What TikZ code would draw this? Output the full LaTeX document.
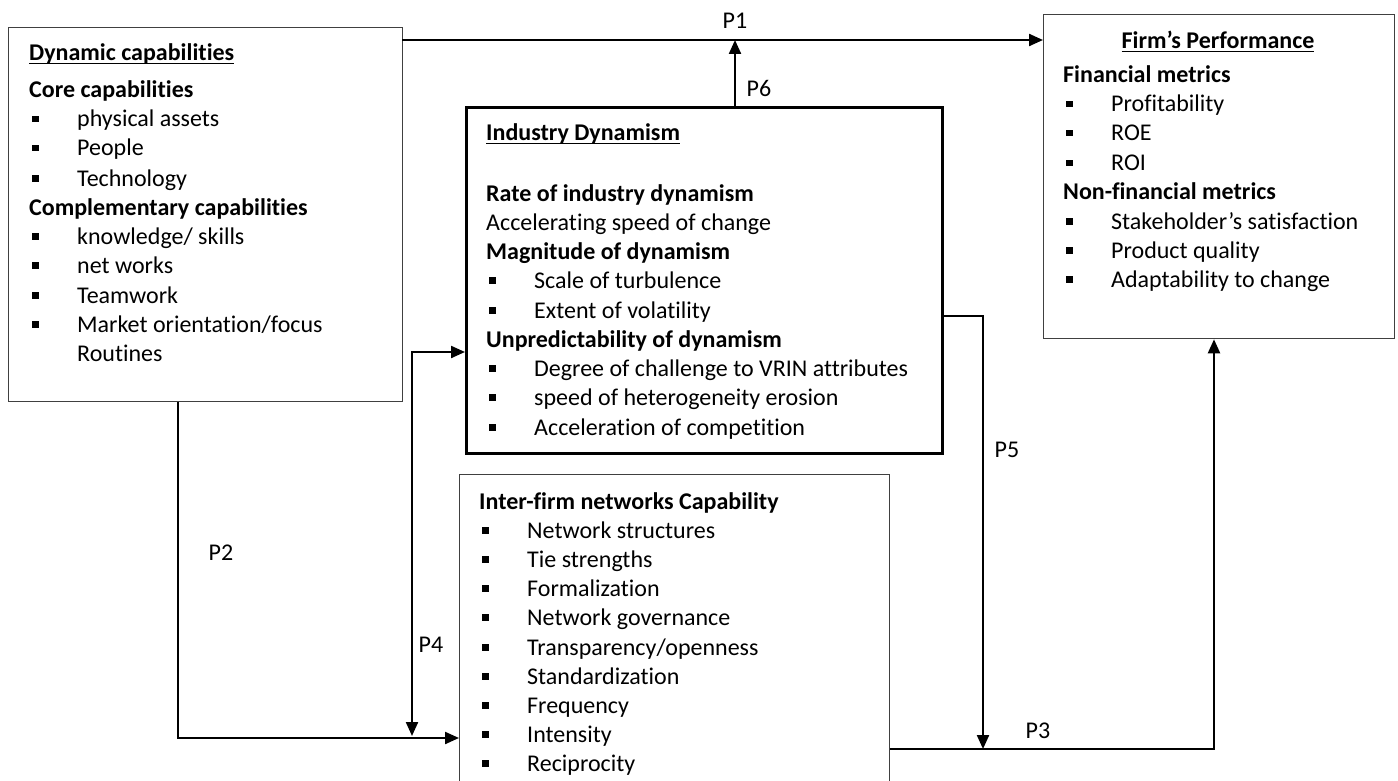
\documentclass[tikz,border=0pt]{standalone}
\usepackage{fontspec}
\setmainfont{Carlito}[Ligatures={TeX,NoCommon}]
\usetikzlibrary{arrows.meta}
\definecolor{boxgray}{HTML}{404040}
\newcommand\bul{\makebox[48pt][l]{\hspace{3pt}\rule[4.5pt]{6.5pt}{6.5pt}}}
\newcommand\ulb[1]{\setbox0\hbox{\bfseries #1}\rlap{\rule[-3.3pt]{\wd0}{1.4pt}}\box0}
\begin{document}
\begin{tikzpicture}[x=1pt,y=-1pt,
 box/.style={draw=boxgray, line width=1.3pt, inner sep=0pt, anchor=north west},
 thickbox/.style={draw=black, line width=2.6pt, inner sep=0pt, anchor=north west},
 txt/.style={inner sep=0pt, anchor=base west, font=\fontsize{24}{29}\selectfont},
 lbl/.style={inner sep=0pt, font=\fontsize{24}{29}\selectfont},
 arr/.style={draw=black, line width=2.2pt, line cap=rect, -{Triangle[length=14pt,width=12pt]}},
 arrboth/.style={draw=black, line width=2.2pt, {Triangle[length=14pt,width=12pt]}-{Triangle[length=14pt,width=12pt]}},
 ln/.style={draw=black, line width=1.3pt},
]
\useasboundingbox (0,0) rectangle (1398,781);
\clip (0,0) rectangle (1398,781);

% boxes
\node[box, minimum width=394pt, minimum height=374pt] (A) at (8,27) {};
\node[thickbox, minimum width=476pt, minimum height=346pt] (B) at (465,106) {};
\node[box, minimum width=351pt, minimum height=324pt] (C) at (1043,14) {};
\node[box, minimum width=430pt, minimum height=320pt] (D) at (459,474) {};

% box A text
\node[txt] (a0) at (29,61) {\ulb{Dynamic capabilities}};
\node[txt] (a1) at (29,98) {\textbf{Core capabilities}};
\node[txt] (a2) at (29,127) {\bul physical assets};
\node[txt] (a3) at (29,156) {\bul People};
\node[txt] (a4) at (29,186) {\bul Technology};
\node[txt] (a5) at (29,215) {\textbf{Complementary capabilities}};
\node[txt] (a6) at (29,244) {\bul knowledge/ skills};
\node[txt] (a7) at (29,273) {\bul net works};
\node[txt] (a8) at (29,303) {\bul Teamwork};
\node[txt] (a9) at (29,332) {\bul Market orientation/focus};
\node[txt] (a10) at (77,361) {Routines};

% box B text
\node[txt] (b0) at (486,141) {\ulb{Industry Dynamism}};
\node[txt] (b1) at (486,201) {\textbf{Rate of industry dynamism}};
\node[txt] (b2) at (486,230) {Accelerating speed of change};
\node[txt] (b3) at (486,259) {\textbf{Magnitude of dynamism}};
\node[txt] (b4) at (486,288) {\bul Scale of turbulence};
\node[txt] (b5) at (486,318) {\bul Extent of volatility};
\node[txt] (b6) at (486,347) {\textbf{Unpredictability of dynamism}};
\node[txt] (b7) at (486,376) {\bul Degree of challenge to VRIN attributes};
\node[txt] (b8) at (486,405) {\bul speed of heterogeneity erosion};
\node[txt] (b9) at (486,435) {\bul Acceleration of competition};

% box C text
\node[txt, anchor=base] (c0) at (1218,49) {\ulb{Firm’s Performance}};
\node[txt] (c1) at (1063,83) {\textbf{Financial metrics}};
\node[txt] (c2) at (1063,112) {\bul Profitability};
\node[txt] (c3) at (1063,141) {\bul ROE};
\node[txt] (c4) at (1063,171) {\bul ROI};
\node[txt] (c5) at (1063,200) {\textbf{Non-financial metrics}};
\node[txt] (c6) at (1063,229) {\bul Stakeholder’s satisfaction};
\node[txt] (c7) at (1063,258) {\bul Product quality};
\node[txt] (c8) at (1063,287) {\bul Adaptability to change};

% box D text
\node[txt] (d0) at (479,509) {\textbf{Inter-firm networks Capability}};
\node[txt] (d1) at (479,538) {\bul Network structures};
\node[txt] (d2) at (479,567) {\bul Tie strengths};
\node[txt] (d3) at (479,596) {\bul Formalization};
\node[txt] (d4) at (479,625) {\bul Network governance};
\node[txt] (d5) at (479,655) {\bul Transparency/openness};
\node[txt] (d6) at (479,684) {\bul Standardization};
\node[txt] (d7) at (479,713) {\bul Frequency};
\node[txt] (d8) at (479,742) {\bul Intensity};
\node[txt] (d9) at (479,771) {\bul Reciprocity};

% junction coordinates
\coordinate (j1) at (735,40);
\coordinate (p2c) at (178,738);
\coordinate (p4t) at (412,352);
\coordinate (p4b) at (412,736);
\coordinate (p5c) at (983,316);
\coordinate (p3c) at (1214,749);
\coordinate (p5b) at (983,749);

% connectors
\draw[arr] (A.east |- j1) -- (C.west |- j1);
\draw[arr] (B.north -| j1) -- (j1);
\draw[ln] (A.south -| p2c) -- (p2c);
\draw[arr] (p2c) -- (D.west |- p2c);
\draw[arrboth] (p4b) -- (p4t) -- (B.west |- p4t);
\draw[ln] (B.east |- p5c) -- (p5c);
\draw[arr] (p5c) -- (p5b);
\draw[ln] (D.east |- p3c) -- (p3c);
\draw[arr] (p3c) -- (C.south -| p3c);

% labels
\node[lbl] (l1) at (735,21) {P1};
\node[lbl] (l6) at (759,88) {P6};
\node[lbl] (l2) at (221,553) {P2};
\node[lbl] (l4) at (431,645) {P4};
\node[lbl] (l5) at (1007,450) {P5};
\node[lbl] (l3) at (1038,731) {P3};
\end{tikzpicture}
\end{document}
